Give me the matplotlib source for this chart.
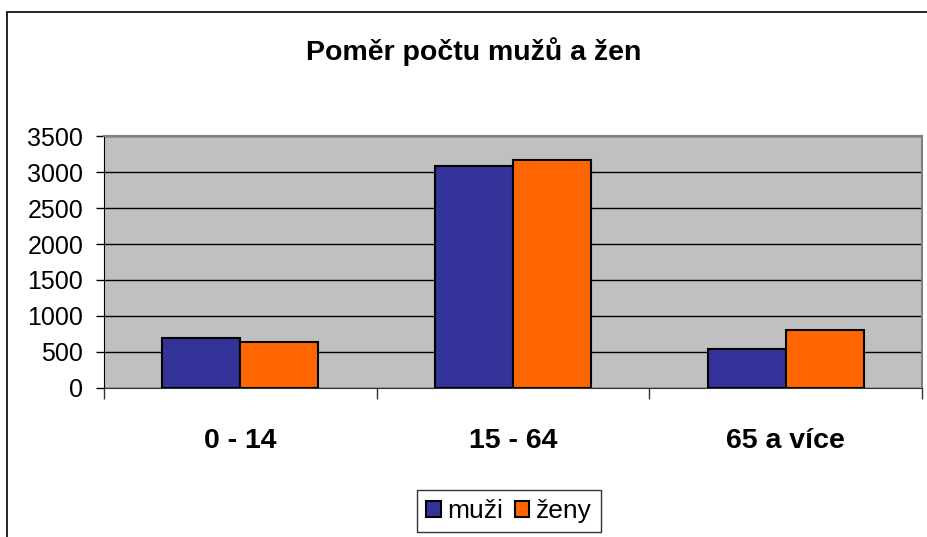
import matplotlib
matplotlib.use("Agg")
import matplotlib.pyplot as plt
import numpy as np
from matplotlib.patches import Rectangle

# data
kategorie = ["0 - 14", "15 - 64", "65 a více"]
muzi = [690, 3090, 545]
zeny = [630, 3170, 800]
nazvy = ["muži", "ženy"]
barvy = ["#333399", "#FF6600"]

plt.rcParams['font.family'] = ['Liberation Sans', 'DejaVu Sans']

fig = plt.figure(figsize=(9.28, 5.37), dpi=100)
ax = fig.add_axes([104/928, 1 - 387.7/537, (922 - 104)/928, (387.7 - 136.3)/537])
ax.set_facecolor("#C0C0C0")

x = np.arange(len(kategorie))
w = 1 / 3.5
ax.bar(x - w/2, muzi, w, color=barvy[0], edgecolor="black", linewidth=1.5, label=nazvy[0], zorder=3)
ax.bar(x + w/2, zeny, w, color=barvy[1], edgecolor="black", linewidth=1.5, label=nazvy[1], zorder=3)

ax.set_xlim(-0.5, len(kategorie) - 0.5)
ax.set_ylim(0, 3500)
ax.set_yticks(np.arange(0, 3501, 500))
ax.yaxis.grid(True, color="black", linewidth=1)
ax.set_axisbelow(True)
ax.tick_params(axis="y", labelsize=18, length=6, width=1, pad=9)

# ticks between categories
ax.set_xticks(np.arange(-0.5, len(kategorie)), [])
ax.set_xticks(x, kategorie, minor=True)
ax.tick_params(axis="x", which="major", length=8, width=1, color="#333333")
ax.tick_params(axis="x", which="minor", length=0, labelsize=20.5, pad=29)
for lab in ax.get_xticklabels(minor=True):
    lab.set_fontweight("bold")

for s in ["top", "right"]:
    ax.spines[s].set_color("#808080")
    ax.spines[s].set_linewidth(1.5)
ax.spines["left"].set_color("black")
ax.spines["bottom"].set_color("#333333")

fig.text(474/928, 1 - 52/537, "Poměr počtu mužů a žen", ha="center", va="center",
         fontsize=20.5, fontweight="bold")

# chart frame
fig.patches.append(Rectangle((7/928, -0.1), 1.2, 1 - 12/537 + 0.1, transform=fig.transFigure,
                             fill=False, edgecolor="black", linewidth=1.2))

leg = fig.legend(loc="upper center", bbox_to_anchor=(509/928, 1 - 490/537), ncol=2,
                 fontsize=19, frameon=True, fancybox=False, edgecolor="black",
                 handlelength=0.55, handleheight=0.55, handletextpad=0.25, columnspacing=0.45,
                 borderpad=0.35, borderaxespad=0)
leg.get_frame().set_linewidth(1)

fig.savefig("out.png", dpi=100)
